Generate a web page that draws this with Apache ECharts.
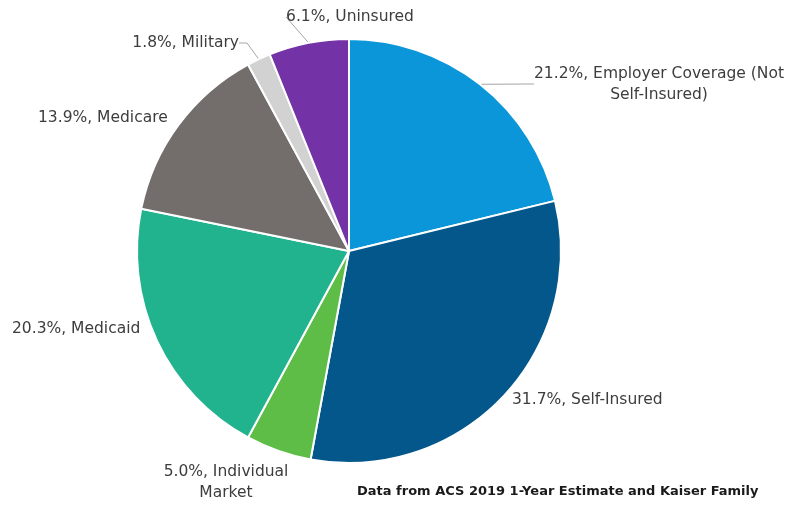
<!DOCTYPE html>
<html>
<head>
<meta charset="utf-8">
<script src="https://cdn.jsdelivr.net/npm/echarts@6/dist/echarts.min.js"></script>
<style>
html,body{margin:0;padding:0;background:#fff;}
#chart{width:797px;height:508px;}
</style>
</head>
<body>
<div id="chart"></div>
<script>
// ---- data ----
var categories = ['Employer Coverage (Not\nSelf-Insured)', 'Self-Insured', 'Individual\nMarket', 'Medicaid', 'Medicare', 'Military', 'Uninsured'];
var percents = [21.2, 31.7, 5.0, 20.3, 13.9, 1.8, 6.1];
var note = 'Data from ACS 2019 1-Year Estimate and Kaiser Family';

// ---- styles ----
var colors = ['#0a96d8', '#04578b', '#5ebd46', '#21b38e', '#736e6c', '#d2d2d2', '#7332a5'];
var showLine = [true, false, false, false, false, true, true];
// label anchor positions (x, y, align)
var labelPos = [
  [659, 84, 'center'],
  [512, 400, 'left'],
  [226, 482, 'center'],
  [12, 329, 'left'],
  [38, 118, 'left'],
  [239, 43, 'right'],
  [350, 17, 'center']
];

var chart = echarts.init(document.getElementById('chart'));
var data = categories.map(function (c, i) {
  return {
    name: c,
    value: percents[i],
    itemStyle: { color: colors[i] },
    labelLine: { show: showLine[i] }
  };
});

chart.setOption({
  animation: false,
  backgroundColor: '#ffffff',
  graphic: [{
    type: 'text',
    left: 357,
    top: 485,
    style: {
      text: note,
      font: 'bold 13px "DejaVu Sans", sans-serif',
      fill: '#1a1a1a'
    }
  }],
  series: [{
    type: 'pie',
    center: [349, 251],
    radius: 212,
    startAngle: 90,
    clockwise: true,
    avoidLabelOverlap: false,
    itemStyle: { borderColor: '#ffffff', borderWidth: 2 },
    label: {
      show: true,
      position: 'outside',
      formatter: function (p) { return p.value.toFixed(1) + '%, ' + p.name; },
      fontFamily: '"DejaVu Sans", sans-serif',
      fontSize: 15.5,
      lineHeight: 21,
      color: '#3d3d3d'
    },
    labelLine: {
      show: true,
      length: 8,
      length2: 8,
      lineStyle: { color: '#a6a6a6', width: 1 }
    },
    labelLayout: function (p) {
      var lp = labelPos[p.dataIndex];
      return { x: lp[0], y: lp[1], align: lp[2], verticalAlign: 'middle' };
    },
    data: data
  }]
});
</script>
</body>
</html>
